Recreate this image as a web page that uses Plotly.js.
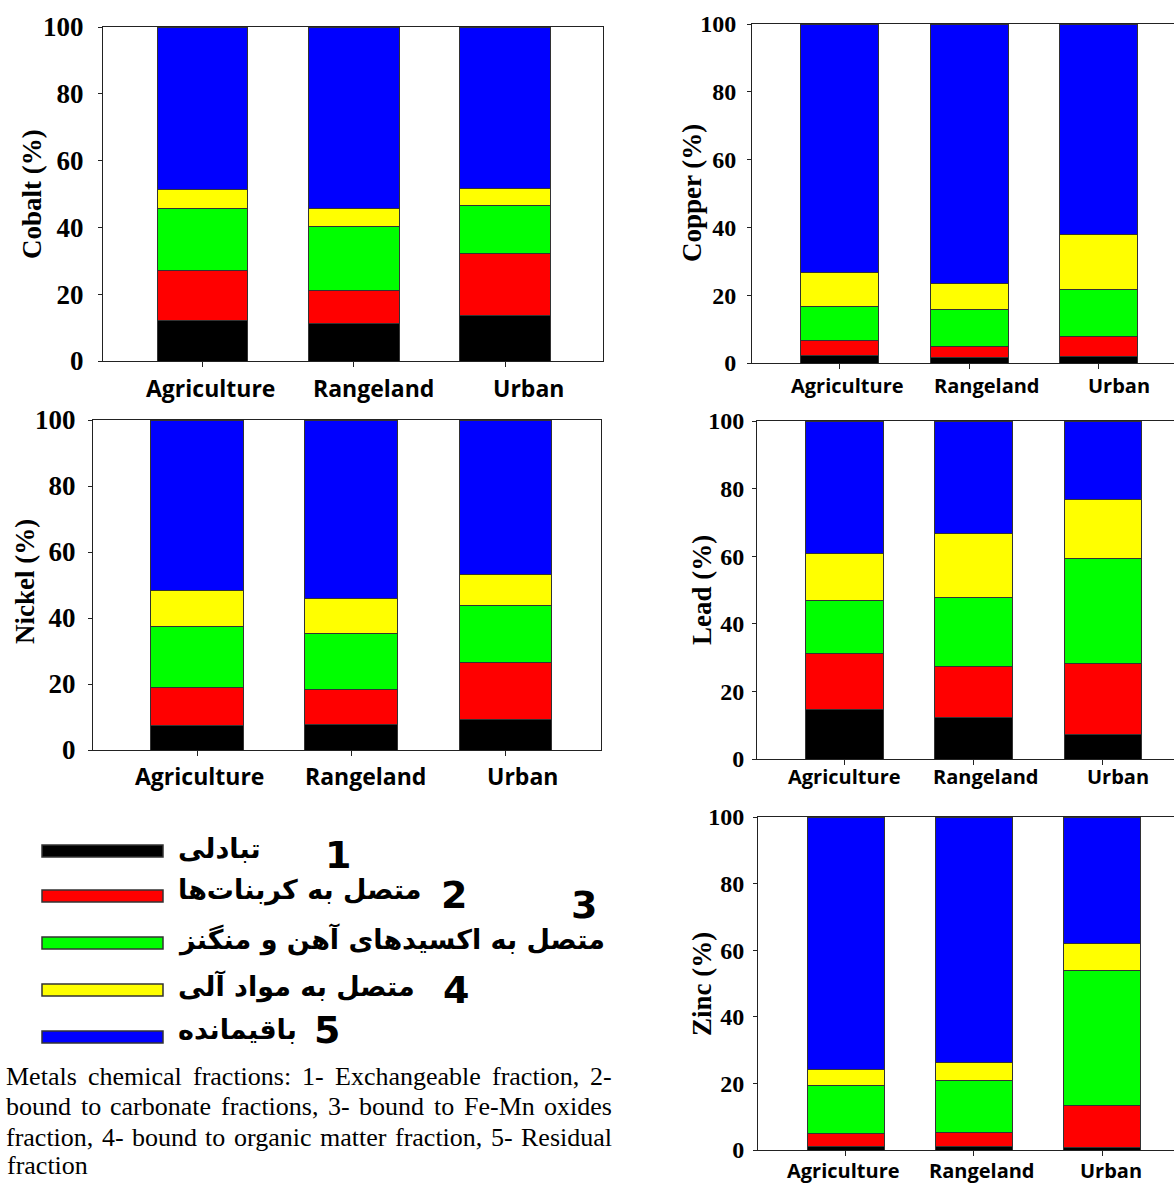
<!DOCTYPE html>
<html>
<head>
<meta charset="utf-8">
<script src="https://cdn.plot.ly/plotly-3.0.1.min.js"></script>
<style>html,body{margin:0;padding:0;background:#fff;}#chart{width:1174px;height:1184px;}</style>
</head>
<body>
<div id="chart"></div>
<script>
// ---------- data ----------
const categories = ['Agriculture', 'Rangeland', 'Urban'];
const fractionLabels = ['تبادلی', 'متصل به کربنات‌ها', 'متصل به اکسیدهای آهن و منگنز', 'متصل به مواد آلی', 'باقیمانده'];
const fractionNumbers = ['1', '2', '3', '4', '5'];
const fractionColors = ['#000000', '#ff0000', '#00ff00', '#ffff00', '#0000ff'];
const yTickValues = [0, 20, 40, 60, 80, 100];

// rows: exchangeable, carbonate, Fe-Mn oxides, organic matter, residual
const cobaltValues = [[12.1, 11.3, 13.6], [15.1, 9.9, 18.7], [18.5, 19.1, 14.3], [5.6, 5.3, 5.0], [48.7, 54.4, 48.4]];
const copperValues = [[2.3, 1.7, 2.0], [4.4, 3.2, 5.9], [10.0, 10.9, 13.8], [9.9, 7.8, 16.2], [73.4, 76.4, 62.1]];
const nickelValues = [[7.3, 7.6, 9.1], [11.5, 10.8, 17.4], [18.7, 16.9, 17.3], [10.9, 10.5, 9.4], [51.6, 54.2, 46.8]];
const leadValues = [[14.6, 12.4, 7.2], [16.6, 14.9, 21.0], [15.8, 20.6, 31.1], [13.9, 18.7, 17.5], [39.1, 33.4, 23.2]];
const zincValues = [[1.2, 1.2, 0.9], [3.8, 4.1, 12.4], [14.3, 15.7, 40.5], [5.0, 5.3, 8.1], [75.7, 73.7, 38.1]];

const metalNames = ['Cobalt (%)', 'Copper (%)', 'Nickel (%)', 'Lead (%)', 'Zinc (%)'];
const captionLines = [
  'Metals chemical fractions: 1- Exchangeable fraction, 2-',
  'bound to carbonate fractions, 3- bound to Fe-Mn oxides',
  'fraction, 4- bound to organic matter fraction, 5- Residual',
  'fraction'
];

// ---------- layout helpers ----------
const W = 1174, H = 1184;
const fx = x => x / W;
const fy = y => 1 - y / H;

// panel boxes in pixels: [xLeft, xRight, yTop(100), yBottom(0)]
const panels = [
  {vals: cobaltValues, box: [103, 603, 27, 361], range: [-0.657, 2.647], right: false, title: [32, 194], ySize: 27, yOff: 9, xSize: 23, labY: 388, labShift: [8, 20, 23]},
  {vals: copperValues, box: [752, 1174, 24, 363], range: [-0.674, 2.58], right: true, title: [692, 193], ySize: 24, yOff: 6, xSize: 20, labY: 386, labShift: [8, 18, 20]},
  {vals: nickelValues, box: [93, 601, 420, 750], range: [-0.675, 2.62], right: false, title: [25, 582], ySize: 27, yOff: 7, xSize: 23, labY: 776, labShift: [2, 14, 17]},
  {vals: leadValues, box: [757, 1174, 421, 759], range: [-0.677, 2.55], right: true, title: [702, 590], ySize: 24, yOff: 3, xSize: 20, labY: 776, labShift: [0, 12, 15]},
  {vals: zincValues, box: [758, 1174, 817, 1150], range: [-0.682, 2.56], right: true, title: [702, 984], ySize: 24, yOff: 4, xSize: 20, labY: 1170, labShift: [-2, 8, 9]}
];

const traces = [];
const layout = {
  width: W, height: H,
  margin: {l: 0, r: 0, t: 0, b: 0},
  paper_bgcolor: '#ffffff', plot_bgcolor: '#ffffff',
  showlegend: false,
  barmode: 'stack',
  annotations: [],
  shapes: []
};

panels.forEach((p, i) => {
  const n = i + 1;
  const xa = n === 1 ? 'x' : 'x' + n;
  const ya = n === 1 ? 'y' : 'y' + n;
  p.vals.forEach((row, k) => {
    traces.push({
      type: 'bar', x: categories, y: row, xaxis: xa, yaxis: ya,
      width: 0.6, name: fractionLabels[k],
      marker: {color: fractionColors[k], line: {color: '#333333', width: 1}},
      hoverinfo: 'skip'
    });
  });
  const [x0, x1, yt, yb] = p.box;
  layout['xaxis' + (n === 1 ? '' : n)] = {
    domain: [fx(x0), fx(x1)], range: p.range, anchor: ya,
    showline: true, linecolor: '#222222', linewidth: 1, mirror: true,
    ticks: 'outside', ticklen: 5, tickcolor: '#222222',
    showticklabels: false,
    showgrid: false, zeroline: false, fixedrange: true
  };
  layout['yaxis' + (n === 1 ? '' : n)] = {
    domain: [fy(yb), fy(yt)], range: [0, 100], anchor: xa,
    tickvals: yTickValues,
    showline: true, linecolor: '#222222', linewidth: 1, mirror: !p.right,
    ticks: 'outside', ticklen: 4, tickcolor: '#222222',
    tickfont: {family: 'Liberation Serif', size: p.ySize, weight: 700, color: '#000000'},
    ticklabelstandoff: p.yOff,
    showgrid: false, zeroline: false, fixedrange: true
  };
  // category labels (placed a little right of the ticks, as in the original figure)
  categories.forEach((c, j) => {
    layout.annotations.push({
      xref: xa, yref: 'paper', x: c, y: fy(p.labY), xshift: p.labShift[j],
      xanchor: 'center', yanchor: 'middle', showarrow: false, text: c,
      font: {family: 'Open Sans', size: p.xSize, weight: 700, color: '#000000'}
    });
  });
  layout.annotations.push({
    xref: 'paper', yref: 'paper', x: fx(p.title[0]), y: fy(p.title[1]),
    xanchor: 'center', yanchor: 'middle', textangle: -90, showarrow: false,
    text: metalNames[i],
    font: {family: 'Liberation Serif', size: 27, weight: 700, color: '#000000'}
  });
});

// ---------- custom legend ----------
const legendRectY = [851, 896, 943, 990, 1037];
const legendTextX = 176;
const legendTextY = [848, 890, 939, 986, 1029];
const numberPos = [[338, 855], [454, 895], [584, 905], [456, 990], [327, 1030]];
fractionColors.forEach((c, k) => {
  layout.shapes.push({
    type: 'rect', xref: 'paper', yref: 'paper',
    x0: fx(42), x1: fx(163), y0: fy(legendRectY[k] + 6), y1: fy(legendRectY[k] - 6),
    fillcolor: c, line: {color: '#333333', width: 1.5}
  });
  layout.annotations.push({
    xref: 'paper', yref: 'paper', x: fx(legendTextX), y: fy(legendTextY[k]),
    xanchor: 'left', yanchor: 'middle', showarrow: false,
    text: fractionLabels[k],
    font: {family: 'DejaVu Sans', size: 27, weight: 700, color: '#000000'}
  });
  layout.annotations.push({
    xref: 'paper', yref: 'paper', x: fx(numberPos[k][0]), y: fy(numberPos[k][1]),
    xanchor: 'center', yanchor: 'middle', showarrow: false,
    text: fractionNumbers[k],
    font: {family: 'DejaVu Sans', size: 38, weight: 700, color: '#000000'}
  });
});

// ---------- caption (justified like the reference) ----------
const captionY = [1076, 1106, 1137, 1165];
const capLeft = 5, capRight = 611, capSize = 26;
const ctx = document.createElement('canvas').getContext('2d');
ctx.font = capSize + 'px "Liberation Serif"';
captionLines.forEach((t, k) => {
  const words = t.split(' ');
  const last = k === captionLines.length - 1;
  if (last || words.length < 2) {
    layout.annotations.push({
      xref: 'paper', yref: 'paper', x: fx(capLeft), y: fy(captionY[k]),
      xanchor: 'left', yanchor: 'middle', showarrow: false, text: t,
      font: {family: 'Liberation Serif', size: capSize, color: '#000000'}
    });
    return;
  }
  const widths = words.map(w => ctx.measureText(w).width);
  const total = widths.reduce((a, b) => a + b, 0);
  const gap = (capRight - capLeft - total) / (words.length - 1);
  let cx = capLeft;
  words.forEach((w, j) => {
    layout.annotations.push({
      xref: 'paper', yref: 'paper', x: fx(cx), y: fy(captionY[k]),
      xanchor: 'left', yanchor: 'middle', showarrow: false, text: w,
      borderpad: 0,
      font: {family: 'Liberation Serif', size: capSize, color: '#000000'}
    });
    cx += widths[j] + gap;
  });
});

Plotly.newPlot('chart', traces, layout, {displayModeBar: false, staticPlot: true});
</script>
</body>
</html>
